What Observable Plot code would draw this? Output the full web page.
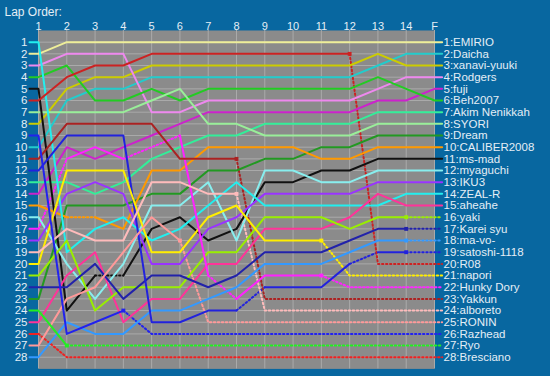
<!DOCTYPE html>
<html><head><meta charset="utf-8">
<script src="https://cdn.jsdelivr.net/npm/d3@7"></script>
<script src="https://cdn.jsdelivr.net/npm/@observablehq/plot@0.6"></script>
<style>
html,body{margin:0;padding:0;background:#0867a0;overflow:hidden;}
#chart svg{display:block;}
</style></head><body><div id="chart"></div>
<script>
// Lap column labels
const lapLabels = ["1","2","3","4","5","6","7","8","9","10","11","12","13","14","F"];
// Drivers in final order
const drivers = ["EMIRIO","Daicha","xanavi-yuuki","Rodgers","fuji","Beh2007","Akim Nenikkah","SYORI","Dream","CALIBER2008","ms-mad","myaguchi","IKU3","ZEAL-R","aheahe","yaki","Karei syu","ma-vo-","satoshi-1118","R08","napori","Hunky Dory","Yakkun","alboreto","RONIN","Razhead","Ryo","Bresciano"];
// Running position at laps 1..14 and F
const positions = [
  [2,1,1,1,1,1,1,1,1,1,1,1,1,1,1],
  [10,6,5,5,4,4,4,4,4,4,4,4,3,2,2],
  [8,5,4,4,3,3,3,3,3,3,3,3,2,3,3],
  [3,2,2,2,7,7,6,6,6,6,6,6,5,4,4],
  [14,10,11,10,9,8,7,7,7,7,7,7,6,6,5],
  [4,3,6,6,5,6,5,5,5,5,5,5,4,5,6],
  [13,13,14,13,11,10,9,9,8,8,8,8,7,7,7],
  [7,7,7,7,6,5,8,8,9,9,9,9,8,8,8],
  [23,15,15,15,14,14,12,12,11,11,10,10,9,9,9],
  [15,16,16,17,12,12,10,10,10,10,11,11,10,10,10],
  [5,24,21,21,17,16,18,17,13,13,12,12,11,11,11],
  [16,20,23,20,15,15,13,18,12,12,13,13,12,12,12],
  [18,14,13,14,20,20,17,16,14,14,14,14,13,13,13],
  [1,19,17,16,18,17,15,13,15,15,15,15,15,14,14],
  [25,21,19,25,23,23,20,20,17,17,17,16,14,15,15],
  [21,18,24,22,22,22,19,19,16,16,16,17,16,16,16],
  [22,22,20,23,21,21,22,21,19,19,19,18,17,17,17],
  [28,25,26,26,24,24,23,22,20,20,20,19,18,18,18],
  [12,9,9,9,25,25,24,24,22,22,22,20,19,19,19],
  [6,4,3,3,2,2,2,2,2,2,2,2,20,20,20],
  [20,12,12,12,19,19,16,15,18,18,18,21,21,21,21],
  [17,11,10,11,10,9,21,23,21,21,21,22,22,22,22],
  [11,8,8,8,8,11,11,11,23,23,23,23,23,23,23],
  [19,17,18,18,13,13,14,14,24,24,24,24,24,24,24],
  [27,23,22,19,16,18,25,25,25,25,25,25,25,25,25],
  [9,26,25,24,26,26,26,26,26,26,26,26,26,26,26],
  [24,27,27,27,27,27,27,27,27,27,27,27,27,27,27],
  [26,28,28,28,28,28,28,28,28,28,28,28,28,28,28]
];
// Lap after which the line continues dotted to the end (0 = finished)
const retireLap = [0,0,0,0,0,0,0,0,0,0,0,0,0,0,0,14,14,14,14,12,11,11,8,8,6,4,2,1];
// Isolated dotted segments (lap k -> k+1)
const dottedLaps = [[],[],[],[],[],[],[],[],[],[2],[3],[],[],[],[],[],[],[],[8,12],[],[],[1,4,5,7],[],[],[],[],[],[]];
const lineColors = ["#eeee99","#22cccc","#cccc00","#ee88ee","#cc22cc","#22cc22","#33ee99","#99ee99","#229922","#ff9900","#111111","#88eeee","#9933ff","#22eeee","#ff3399","#99ee00","#2222aa","#3399ff","#2222dd","#cc2222","#ffee00","#ff22ff","#aa2222","#ffbbbb","#ff9999","#2222ee","#22ee22","#ee2222"];

const nLaps = lapLabels.length;
const lapNums = lapLabels.map((_, i) => i + 1);
const rows = d3.range(1, drivers.length + 1);
const STUB_L = 0.32, STUB_R = 0.27;

const solid = [], dotted = [], dots = [];
drivers.forEach((name, i) => {
  const pos = positions[i];
  const xs = [1 - STUB_L, ...lapNums, nLaps + STUB_R];
  const ys = [pos[0], ...pos, pos[pos.length - 1]];
  const isDot = j => {
    if (j === 0) return false;
    if (retireLap[i] && j >= retireLap[i]) return true;
    return dottedLaps[i].includes(j);
  };
  let run = -1, prev = null;
  for (let j = 0; j < xs.length - 1; j++) {
    const d = isDot(j);
    const target = d ? dotted : solid;
    if (d !== prev) { run++; prev = d; target.push({name, run: name + "#" + run, x: xs[j], y: ys[j]}); }
    target.push({name, run: name + "#" + run, x: xs[j + 1], y: ys[j + 1]});
  }
  if (retireLap[i] > 1) dots.push({name, x: retireLap[i], y: pos[retireLap[i] - 1]});
});

const textColor = "#e4eef6";
const chart = Plot.plot({
  width: 550, height: 376,
  marginLeft: 38, marginRight: 116, marginTop: 30, marginBottom: 7.6,
  x: {domain: [1, nLaps], axis: null},
  y: {domain: [0, drivers.length + 1], reverse: true, axis: null},
  color: {domain: drivers, range: lineColors},
  style: {background: "#0867a0", color: textColor, fontFamily: "Arial, 'Liberation Sans', sans-serif", fontSize: "11px", overflow: "visible"},
  marks: [
    Plot.frame({fill: "#8b8b8b", stroke: null}),
    Plot.ruleX(lapNums, {x: d => d, stroke: "#aaaaaa", strokeWidth: 1}),
    Plot.ruleY(rows, {y: d => d, stroke: "#aaaaaa", strokeWidth: 1}),
    Plot.text(lapNums, {x: d => d, frameAnchor: "top", dy: -8, text: d => lapLabels[d - 1], fill: textColor, fontSize: 11}),
    Plot.text(rows, {y: d => d, frameAnchor: "left", dx: -11, textAnchor: "end", text: d => String(d), fill: textColor, fontSize: 11.5}),
    Plot.text(["Lap Order:"], {frameAnchor: "top-left", dx: -34, dy: -23, textAnchor: "start", text: d => d, fill: textColor, fontSize: 12}),
    Plot.line(dotted, {x: "x", y: "y", z: "run", stroke: "name", strokeWidth: 2, strokeDasharray: "1.5,2.5"}),
    Plot.line(solid, {x: "x", y: "y", z: "run", stroke: "name", strokeWidth: 2}),
    Plot.dot(dots, {x: "x", y: "y", symbol: "square", r: 2.2, fill: "name", stroke: null}),
    Plot.text(drivers, {x: nLaps, y: (d, i) => positions[i][nLaps - 1], text: (d, i) => `${positions[i][nLaps - 1]}:${d}`, dx: 9, textAnchor: "start", fill: textColor, fontSize: 11.5})
  ]
});
document.getElementById("chart").appendChild(chart);
</script>
</body></html>
